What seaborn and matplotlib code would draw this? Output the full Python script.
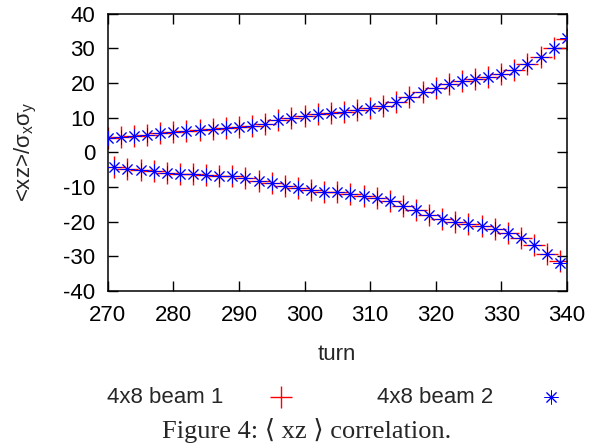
import numpy as np
import pandas as pd
import matplotlib
matplotlib.use("Agg")
import matplotlib.pyplot as plt
import seaborn as sns

# turn numbers and <xz>/(sigma_x sigma_y)
turns = [270, 271, 272, 273, 274, 275, 276, 277, 278, 279,
         280, 281, 282, 283, 284, 285, 286, 287, 288, 289,
         290, 291, 292, 293, 294, 295, 296, 297, 298, 299,
         300, 301, 302, 303, 304, 305, 306, 307, 308, 309,
         310, 311, 312, 313, 314, 315, 316, 317, 318, 319,
         320, 321, 322, 323, 324, 325, 326, 327, 328, 329,
         330, 331, 332, 333, 334, 335, 336, 337, 338, 339, 340]

beam1 = [4.2, -4.35, 4.55, -4.7, 4.8, -5.1, 5.1, -5.5, 5.5, -5.9,
         5.8, -6.2, 6.1, -6.3, 6.4, -6.5, 6.7, -6.7, 7.0, -6.9,
         7.2, -7.5, 7.7, -8.2, 8.3, -8.9, 9.2, -9.6, 10.0, -10.2,
         10.4, -10.9, 11.0, -11.4, 11.35, -11.6, 11.7, -12.0, 12.3, -12.5,
         12.9, -13.2, 13.4, -14.2, 14.6, -15.4, 15.9, -16.7, 17.5, -18.1,
         18.7, -19.4, 19.7, -20.1, 20.5, -20.8, 21.1, -21.4, 21.7, -22.2,
         22.5, -23.3, 23.9, -24.8, 25.6, -26.8, 27.5, -29.3, 30.2, -31.4, 32.6]

beam2 = [4.2, -4.35, 4.55, -4.7, 4.8, -5.1, 5.1, -5.5, 5.5, -5.9,
         5.8, -6.2, 6.1, -6.3, 6.4, -6.5, 6.7, -6.7, 7.0, -6.9,
         7.2, -7.5, 7.7, -8.2, 8.3, -8.9, 9.2, -9.6, 10.0, -10.2,
         10.4, -10.9, 11.0, -11.4, 11.35, -11.6, 11.7, -12.0, 12.3, -12.5,
         12.9, -13.2, 13.4, -14.2, 14.6, -15.4, 15.9, -16.7, 17.5, -18.1,
         18.7, -19.4, 19.7, -20.1, 20.5, -20.8, 21.1, -21.4, 21.7, -22.2,
         22.5, -23.3, 23.9, -24.8, 25.6, -26.8, 27.5, -29.3, 30.2, -31.9, 32.9]

x_ticks = [270, 280, 290, 300, 310, 320, 330, 340]
y_ticks = [-40, -30, -20, -10, 0, 10, 20, 30, 40]

df1 = pd.DataFrame({"turn": turns, "corr": beam1})
df2 = pd.DataFrame({"turn": turns, "corr": beam2})

sns.set_theme(style="ticks")
plt.rcParams["font.family"] = ["Liberation Sans", "DejaVu Sans"]
plt.rcParams["mathtext.fontset"] = "custom"
plt.rcParams["mathtext.rm"] = "Liberation Sans"
plt.rcParams["mathtext.it"] = "Liberation Sans"
plt.rcParams["axes.unicode_minus"] = False

fig = plt.figure(figsize=(6.01, 4.48), dpi=100)
ax = fig.add_axes([0.1794, 0.351, 0.7636, 0.618])

asterisk = (8, 2, 0)
sns.scatterplot(data=df1, x="turn", y="corr", ax=ax, marker="+", color="#ff0000",
                edgecolor="#ff0000", s=240, linewidth=1.0, label="4x8 beam 1",
                legend=False, zorder=2)
sns.scatterplot(data=df2, x="turn", y="corr", ax=ax, marker=asterisk, color="#0000ff",
                edgecolor="#0000ff", s=90, linewidth=0.7, label="4x8 beam 2",
                legend=False, zorder=3)

ax.set_xlim(270, 340)
ax.set_ylim(-40, 40)
ax.set_xticks(x_ticks)
ax.set_yticks(y_ticks)
ax.tick_params(direction="in", length=7.2, width=1.0, labelsize=16, top=True, right=True,
               color="black", labelcolor="black")
ax.tick_params(axis="x", pad=10)
ax.tick_params(axis="y", pad=9)
for sp in ax.spines.values():
    sp.set_linewidth(1.1)
    sp.set_color("black")
    sp.set_visible(True)

ax.set_xlabel("turn", fontsize=16, labelpad=13)
ax.set_ylabel(r"<xz>/$\sigma_{\rm x}\sigma_{\rm y}$", fontsize=16, labelpad=17)

handles, labels = ax.get_legend_handles_labels()
fig.legend(handles, labels, loc="center", bbox_to_anchor=(0.566, 0.112), ncol=2,
           markerfirst=False, frameon=False, fontsize=16, handlelength=2.0,
           handletextpad=1.6, columnspacing=3.3, borderpad=0, borderaxespad=0)

fig.text(0.51, 0.023, "Figure 4: \u27e8 xz \u27e9 correlation.", ha="center", va="baseline",
         fontsize=19, family=["Liberation Serif", "DejaVu Serif"])

fig.savefig("out.png", dpi=100)
